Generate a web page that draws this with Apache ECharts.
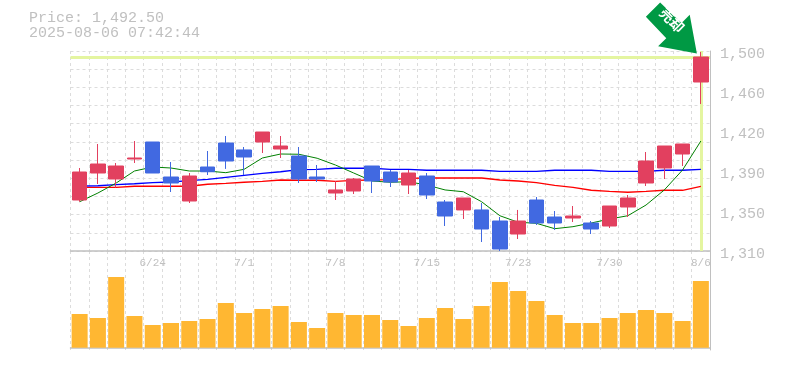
<!DOCTYPE html>
<html><head><meta charset="utf-8">
<style>html,body{margin:0;padding:0;background:#fff}#c{width:785px;height:370px}</style>
<script src="https://cdn.jsdelivr.net/npm/echarts@6/dist/echarts.min.js"></script>
</head><body><div id="c"></div>
<script>
const categories=['6/18','6/19','6/20','6/23','6/24','6/25','6/26','6/27','6/30','7/1','7/2','7/3','7/4','7/7','7/8','7/9','7/10','7/11','7/14','7/15','7/16','7/17','7/18','7/22','7/23','7/24','7/25','7/28','7/29','7/30','7/31','8/1','8/4','8/5','8/6'];
// [open, close, low, high]
const candles=[
[1358.45,1385.05,1356.8,1388.85],[1384.1,1392.65,1373.65,1411.65],[1378.4,1390.75,1370.1,1393.6],[1397.4,1398.35,1393.6,1414.5],
[1413.55,1384.1,1384.1,1413.55],[1380.3,1374.6,1366.05,1394.55],[1357.5,1381.25,1355.6,1384.1],[1389.8,1385.3,1382.2,1405],
[1412.6,1395.5,1388,1419.25],[1406,1399.3,1382.2,1408.8],[1413.55,1423.05,1403.1,1423.05],[1406.9,1409.75,1398.35,1419.25],
[1400.25,1378.4,1374.6,1408.8],[1380.3,1378.4,1375.55,1391.7],[1365.1,1368,1358.45,1376.5],[1367,1378.4,1364.15,1379.35],
[1390.75,1376.5,1365.1,1390.75],[1385.05,1375.55,1370.8,1386.95],[1372.7,1384.1,1364.15,1386.95],[1381.25,1363.2,1359.4,1384.1],
[1356.55,1343.25,1333.75,1358.45],[1349,1360.35,1340.4,1360.35],[1349,1330.9,1318.55,1355.6],[1338.5,1311.9,1310,1342.3],
[1326.15,1338.5,1321.4,1349],[1358.45,1336.6,1334.7,1361.3],[1342.3,1336.6,1330,1348],[1341.35,1343.25,1337.55,1352.75],
[1336.6,1330.9,1326.15,1338.5],[1333.75,1352.75,1331.85,1352.75],[1351.8,1360.35,1342.3,1363.2],[1374.6,1395.5,1371.75,1404.05],
[1388.85,1409.75,1378.4,1409.75],[1402.15,1411.65,1390.75,1411.65],[1470.55,1494.3,1449.65,1499.05]];
const maShort=[1356.8,1365.1,1374.6,1386,1389.8,1388.85,1386,1386,1384.4,1387.6,1398.35,1402.15,1401.9,1398.1,1391.7,1384.1,1376.5,1375.3,1375.8,1372.7,1368,1366.3,1356.8,1343.5,1337.3,1336.3,1331.2,1333.1,1336.6,1340.4,1343.5,1353.7,1368,1387,1414.5];
const maMid=[1371.75,1372,1373,1373.9,1374.9,1375.55,1376.8,1378.1,1380,1381.9,1383.8,1385.3,1387.4,1387.6,1388.6,1388.6,1388.6,1387.6,1387.6,1386.7,1386.7,1386.7,1386.7,1385.7,1385.7,1385.7,1386.7,1386.7,1386.7,1385.7,1385.7,1385.7,1386.7,1386.7,1387.6];
const maLong=[1370.5,1370.5,1370.5,1371.5,1371.5,1371.5,1371.5,1373.4,1374.3,1375.3,1376.2,1377.45,1377.2,1377.2,1376.2,1377,1377.45,1377.9,1378.9,1379.35,1379.35,1379.35,1379.35,1377.45,1376.5,1374.9,1372.4,1370.5,1367.7,1366.7,1365.8,1366.7,1367.7,1367.7,1371.5];
const volumes=[33.7,29.7,70.7,31.7,22.7,24.7,26.7,28.7,44.7,34.7,38.7,41.7,25.7,19.7,34.7,32.7,32.7,27.7,21.7,29.7,39.7,28.7,41.7,65.7,56.7,46.7,32.7,24.7,24.7,29.7,34.7,37.7,34.7,26.7,66.7];
const priceTicks=[1310,1348,1386,1424,1462,1500];
const lastPrice=1494.3;
const titleLines='Price: 1,492.50\n2025-08-06 07:42:44';
const signalText='売却';

const gray='#c0c0c0', dash='#dcdcdc', mono='"Liberation Mono",monospace';
const chart=echarts.init(document.getElementById('c'),null,{renderer:'canvas'});
const hdash={show:true,lineStyle:{color:dash,type:[3,3],width:1}};
chart.setOption({
 animation:false,
 title:{text:titleLines,left:29,top:11,padding:0,textStyle:{color:gray,fontFamily:mono,fontSize:15,fontWeight:'normal',lineHeight:15}},
 grid:[{left:70.5,right:75,top:51,height:200,containLabel:false},{left:70.5,right:75,top:251,height:99}],
 xAxis:[
  {type:'category',data:categories,gridIndex:0,boundaryGap:true,axisLine:{lineStyle:{color:gray,width:1.5}},axisTick:{show:false},axisLabel:{show:false},splitLine:{...hdash,interval:0}},
  {type:'category',data:categories,gridIndex:1,boundaryGap:true,position:'bottom',axisLine:{lineStyle:{color:gray,width:1.5}},axisTick:{show:false},
   axisLabel:{show:false},splitLine:{...hdash,interval:0}},
  {type:'category',data:categories,gridIndex:1,position:'top',axisLine:{show:false},axisTick:{show:false},
   axisLabel:{inside:true,color:gray,fontFamily:mono,fontSize:11,margin:7,interval:(i)=>i%5===4,hideOverlap:false},splitLine:{show:false}}
 ],
 yAxis:[
  {type:'value',gridIndex:0,min:1310,max:1500,position:'right',axisLine:{show:true,onZero:false,lineStyle:{color:gray,width:1}},axisTick:{show:false},splitLine:{show:false},
   axisLabel:{customValues:priceTicks,color:gray,fontFamily:mono,fontSize:15,margin:10,verticalAlign:'top',lineHeight:6,
    formatter:v=>(Math.round(v/10)*10).toLocaleString('en-US')}},
  {type:'value',gridIndex:0,min:0,max:11,interval:1,position:'left',axisLine:{show:false},axisTick:{show:false},axisLabel:{show:false},splitLine:hdash},
  {type:'value',gridIndex:1,min:-2.3,max:96.7,position:'right',axisLine:{show:true,onZero:false,lineStyle:{color:gray,width:1}},axisTick:{show:false},axisLabel:{show:false},splitLine:{show:false}}
 ],
 series:[
  {type:'line',xAxisIndex:0,yAxisIndex:0,data:[],z:1,silent:true,
   markLine:{silent:true,z:1,symbol:'none',label:{show:false},lineStyle:{color:'#e4f5a0',width:3,type:'solid'},
    data:[{yAxis:lastPrice},{xAxis:categories.length-1}]}},
  {type:'line',xAxisIndex:0,yAxisIndex:0,data:maLong,showSymbol:false,z:3,lineStyle:{color:'#ff0000',width:1.3}},
  {type:'line',xAxisIndex:0,yAxisIndex:0,data:maMid,showSymbol:false,z:3,lineStyle:{color:'#0000ff',width:1.3}},
  {type:'line',xAxisIndex:0,yAxisIndex:0,data:maShort,showSymbol:false,z:3,lineStyle:{color:'#008000',width:1}},
  {type:'candlestick',xAxisIndex:0,yAxisIndex:0,data:candles,barWidth:15,z:5,
   itemStyle:{color:'#e2405f',color0:'#4169e1',borderColor:'#e2405f',borderColor0:'#4169e1',borderWidth:1},
   markPoint:{silent:true,z:9,data:[{coord:[categories.length-1,1499.05],symbolSize:[51,51],symbolOffset:[-29.5,-24],
     symbol:'path://M14 0 L0 14 L20 35 L12 43 L50 50 L43 12 L35 20 Z',itemStyle:{color:'#009944'},
     label:{show:true,formatter:signalText,color:'#fff',fontSize:14,fontWeight:'bold',rotate:-45,position:'inside',offset:[-5,-6],fontFamily:'"Noto Sans CJK JP"'}}]}},
  {type:'bar',xAxisIndex:1,yAxisIndex:2,data:volumes,barWidth:16,itemStyle:{color:'#ffb732'},z:3}
 ]
});
</script></body></html>
